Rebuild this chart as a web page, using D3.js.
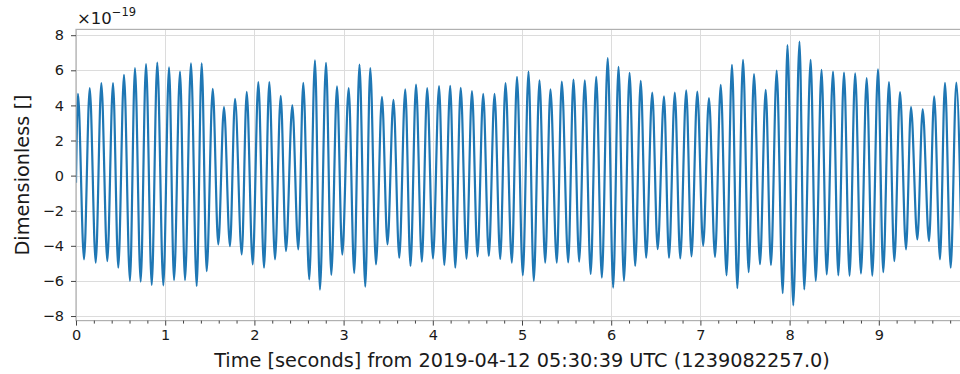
<!DOCTYPE html>
<html>
<head>
<meta charset="utf-8">
<script src="https://cdn.jsdelivr.net/npm/d3@7"></script>
<style>
  html, body { margin: 0; padding: 0; background: #fff; }
  svg { display: block; font-family: "DejaVu Sans", sans-serif; }
</style>
</head>
<body>
<svg id="chart" width="960" height="374"></svg>
<script>
// Strain time series, values in units of 10^-19.
const exponent = -19;
const xTicks = [0, 1, 2, 3, 4, 5, 6, 7, 8, 9];
const yTicks = [-8, -6, -4, -2, 0, 2, 4, 6, 8];

// Local maxima of the waveform (time in s, strain ×1e-19)
const peakTime = [0.022, 0.154, 0.284, 0.415, 0.538, 0.661, 0.785, 0.911, 1.043, 1.166,
  1.289, 1.409, 1.533, 1.659, 1.783, 1.914, 2.044, 2.167, 2.295, 2.425,
  2.548, 2.679, 2.803, 2.926, 3.057, 3.178, 3.299, 3.430, 3.559, 3.691,
  3.812, 3.937, 4.070, 4.195, 4.313, 4.439, 4.565, 4.692, 4.815, 4.944,
  5.073, 5.196, 5.319, 5.446, 5.577, 5.704, 5.832, 5.961, 6.082, 6.206,
  6.331, 6.460, 6.592, 6.713, 6.841, 6.965, 7.096, 7.228, 7.354, 7.478,
  7.601, 7.732, 7.855, 7.976, 8.111, 8.236, 8.358, 8.487, 8.610, 8.735,
  8.864, 8.991, 9.114, 9.238, 9.361, 9.492, 9.621, 9.742, 9.869];
const peakValue = [4.66, 4.98, 5.27, 5.27, 5.74, 6.12, 6.36, 6.44, 6.17, 5.93,
  6.40, 6.40, 4.95, 3.90, 4.38, 4.77, 5.33, 5.33, 4.55, 4.00,
  5.28, 6.57, 6.42, 5.08, 4.98, 6.32, 6.13, 4.49, 4.32, 4.92,
  5.19, 4.98, 5.10, 5.12, 5.00, 4.82, 4.66, 4.66, 5.27, 5.62,
  5.93, 5.43, 4.92, 5.36, 5.47, 5.43, 5.62, 6.69, 6.20, 5.86,
  5.40, 4.73, 4.51, 4.73, 4.86, 4.79, 4.41, 5.17, 6.31, 6.59,
  5.79, 4.89, 5.98, 7.44, 7.63, 6.59, 6.02, 5.93, 5.87, 5.83,
  5.55, 6.06, 5.33, 4.76, 3.90, 3.77, 4.51, 5.28, 5.30];

// Local minima of the waveform
const troughTime = [0.090, 0.221, 0.351, 0.474, 0.605, 0.725, 0.849, 0.979, 1.099, 1.222,
  1.353, 1.465, 1.595, 1.726, 1.858, 1.981, 2.108, 2.231, 2.354, 2.492,
  2.615, 2.735, 2.862, 2.985, 3.119, 3.243, 3.363, 3.492, 3.624, 3.750,
  3.877, 4.002, 4.129, 4.252, 4.378, 4.501, 4.628, 4.756, 4.886, 5.009,
  5.132, 5.260, 5.390, 5.518, 5.641, 5.770, 5.895, 6.022, 6.143, 6.269,
  6.392, 6.521, 6.648, 6.774, 6.900, 7.031, 7.164, 7.293, 7.414, 7.541,
  7.668, 7.791, 7.923, 8.041, 8.164, 8.293, 8.416, 8.546, 8.672, 8.800,
  8.927, 9.050, 9.174, 9.305, 9.432, 9.563, 9.686, 9.806, 9.930];
const troughValue = [-4.77, -4.96, -4.87, -5.25, -6.00, -6.04, -6.23, -6.25, -5.95, -5.95,
  -6.29, -5.44, -3.92, -4.02, -4.49, -5.06, -5.25, -4.77, -4.30, -4.20,
  -5.91, -6.50, -5.65, -4.50, -5.55, -6.33, -5.06, -3.92, -4.68, -5.15,
  -4.90, -4.72, -5.10, -5.25, -4.73, -4.60, -4.58, -4.75, -4.96, -5.68,
  -6.00, -4.96, -4.96, -4.95, -4.90, -5.60, -5.81, -6.38, -6.00, -5.15,
  -4.68, -4.19, -4.68, -4.72, -4.60, -4.00, -4.63, -5.68, -6.41, -5.50,
  -5.05, -5.10, -6.70, -7.39, -6.48, -6.00, -5.63, -5.68, -5.70, -5.58,
  -5.70, -5.50, -4.87, -4.20, -3.64, -3.73, -4.77, -5.25, -5.00];

// Value at the first sample
const startTime = 0;
const startValue = -0.4;

const svg = d3.select("#chart");
const plot = { left: 76, right: 968, top: 29.4, bottom: 320.6 };

const x = d3.scaleLinear().domain([0, 10]).range([plot.left, plot.right]);
const y = d3.scaleLinear().domain([-8.26, 8.33]).range([plot.bottom, plot.top]);

const minus = v => (v < 0 ? "\u2212" + Math.abs(v) : String(v));

// Grid
const grid = svg.append("g").attr("stroke", "#dcdcdc").attr("stroke-width", 1);
grid.selectAll("line.gx").data(xTicks).join("line")
  .attr("class", "gx")
  .attr("x1", d => Math.round(x(d)) + 0.5).attr("x2", d => Math.round(x(d)) + 0.5)
  .attr("y1", plot.top).attr("y2", plot.bottom);
grid.selectAll("line.gy").data(yTicks).join("line")
  .attr("class", "gy")
  .attr("y1", d => Math.round(y(d)) + 0.5).attr("y2", d => Math.round(y(d)) + 0.5)
  .attr("x1", plot.left).attr("x2", plot.right);

// Waveform
svg.append("clipPath").attr("id", "clip").append("rect")
  .attr("x", plot.left).attr("y", plot.top)
  .attr("width", plot.right - plot.left).attr("height", plot.bottom - plot.top);

const points = [{ t: startTime, v: startValue }]
  .concat(peakTime.map((t, i) => ({ t, v: peakValue[i] })))
  .concat(troughTime.map((t, i) => ({ t, v: troughValue[i] })))
  .sort((a, b) => a.t - b.t);

const line = d3.line()
  .x(d => x(d.t))
  .y(d => y(d.v))
  .curve(d3.curveMonotoneX);

svg.append("path")
  .datum(points)
  .attr("clip-path", "url(#clip)")
  .attr("fill", "none")
  .attr("stroke", "#1f77b4")
  .attr("stroke-width", 2.2)
  .attr("stroke-linejoin", "round")
  .attr("d", line);

// Frame
svg.append("rect")
  .attr("x", plot.left).attr("y", plot.top)
  .attr("width", plot.right - plot.left).attr("height", plot.bottom - plot.top)
  .attr("fill", "none").attr("stroke", "#b0b0b0").attr("stroke-width", 1.2);

// Axes
const tickColor = "#444";
const xAxis = svg.append("g")
  .attr("transform", `translate(0,${plot.bottom})`)
  .call(d3.axisBottom(x).tickValues(xTicks).tickSize(5).tickPadding(4).tickFormat(d3.format("d")));
const minorTicks = d3.range(1, 50).map(i => i / 5).filter(v => Math.abs(v - Math.round(v)) > 1e-9);
const xMinor = svg.append("g")
  .attr("transform", `translate(0,${plot.bottom})`)
  .call(d3.axisBottom(x).tickValues(minorTicks).tickSize(3).tickFormat(""));
const yAxis = svg.append("g")
  .attr("transform", `translate(${plot.left},0)`)
  .call(d3.axisLeft(y).tickValues(yTicks).tickSize(5).tickPadding(7).tickFormat(minus));

[xAxis, xMinor, yAxis].forEach(g => {
  g.select(".domain").remove();
  g.selectAll(".tick line").attr("stroke", tickColor).attr("stroke-width", 1);
  g.selectAll(".tick text")
    .attr("fill", "#1a1a1a")
    .style("font-family", "'DejaVu Sans', sans-serif")
    .style("font-size", "14.5px");
});

// Offset text
const offset = svg.append("text")
  .attr("x", 77).attr("y", 24)
  .attr("fill", "#1a1a1a")
  .style("font-size", "16.5px");
offset.append("tspan").text("\u00d710");
offset.append("tspan").attr("dy", -8).style("font-size", "11.5px").text("\u2212" + Math.abs(exponent));

// Axis labels
svg.append("text")
  .attr("x", (plot.left + plot.right) / 2).attr("y", 367)
  .attr("text-anchor", "middle")
  .attr("fill", "#1a1a1a")
  .style("font-size", "19.3px")
  .text("Time [seconds] from 2019-04-12 05:30:39 UTC (1239082257.0)");

svg.append("text")
  .attr("transform", `translate(28.5,${(plot.top + plot.bottom) / 2}) rotate(-90)`)
  .attr("text-anchor", "middle")
  .attr("fill", "#1a1a1a")
  .style("font-size", "19.3px")
  .text("Dimensionless []");
</script>
</body>
</html>
